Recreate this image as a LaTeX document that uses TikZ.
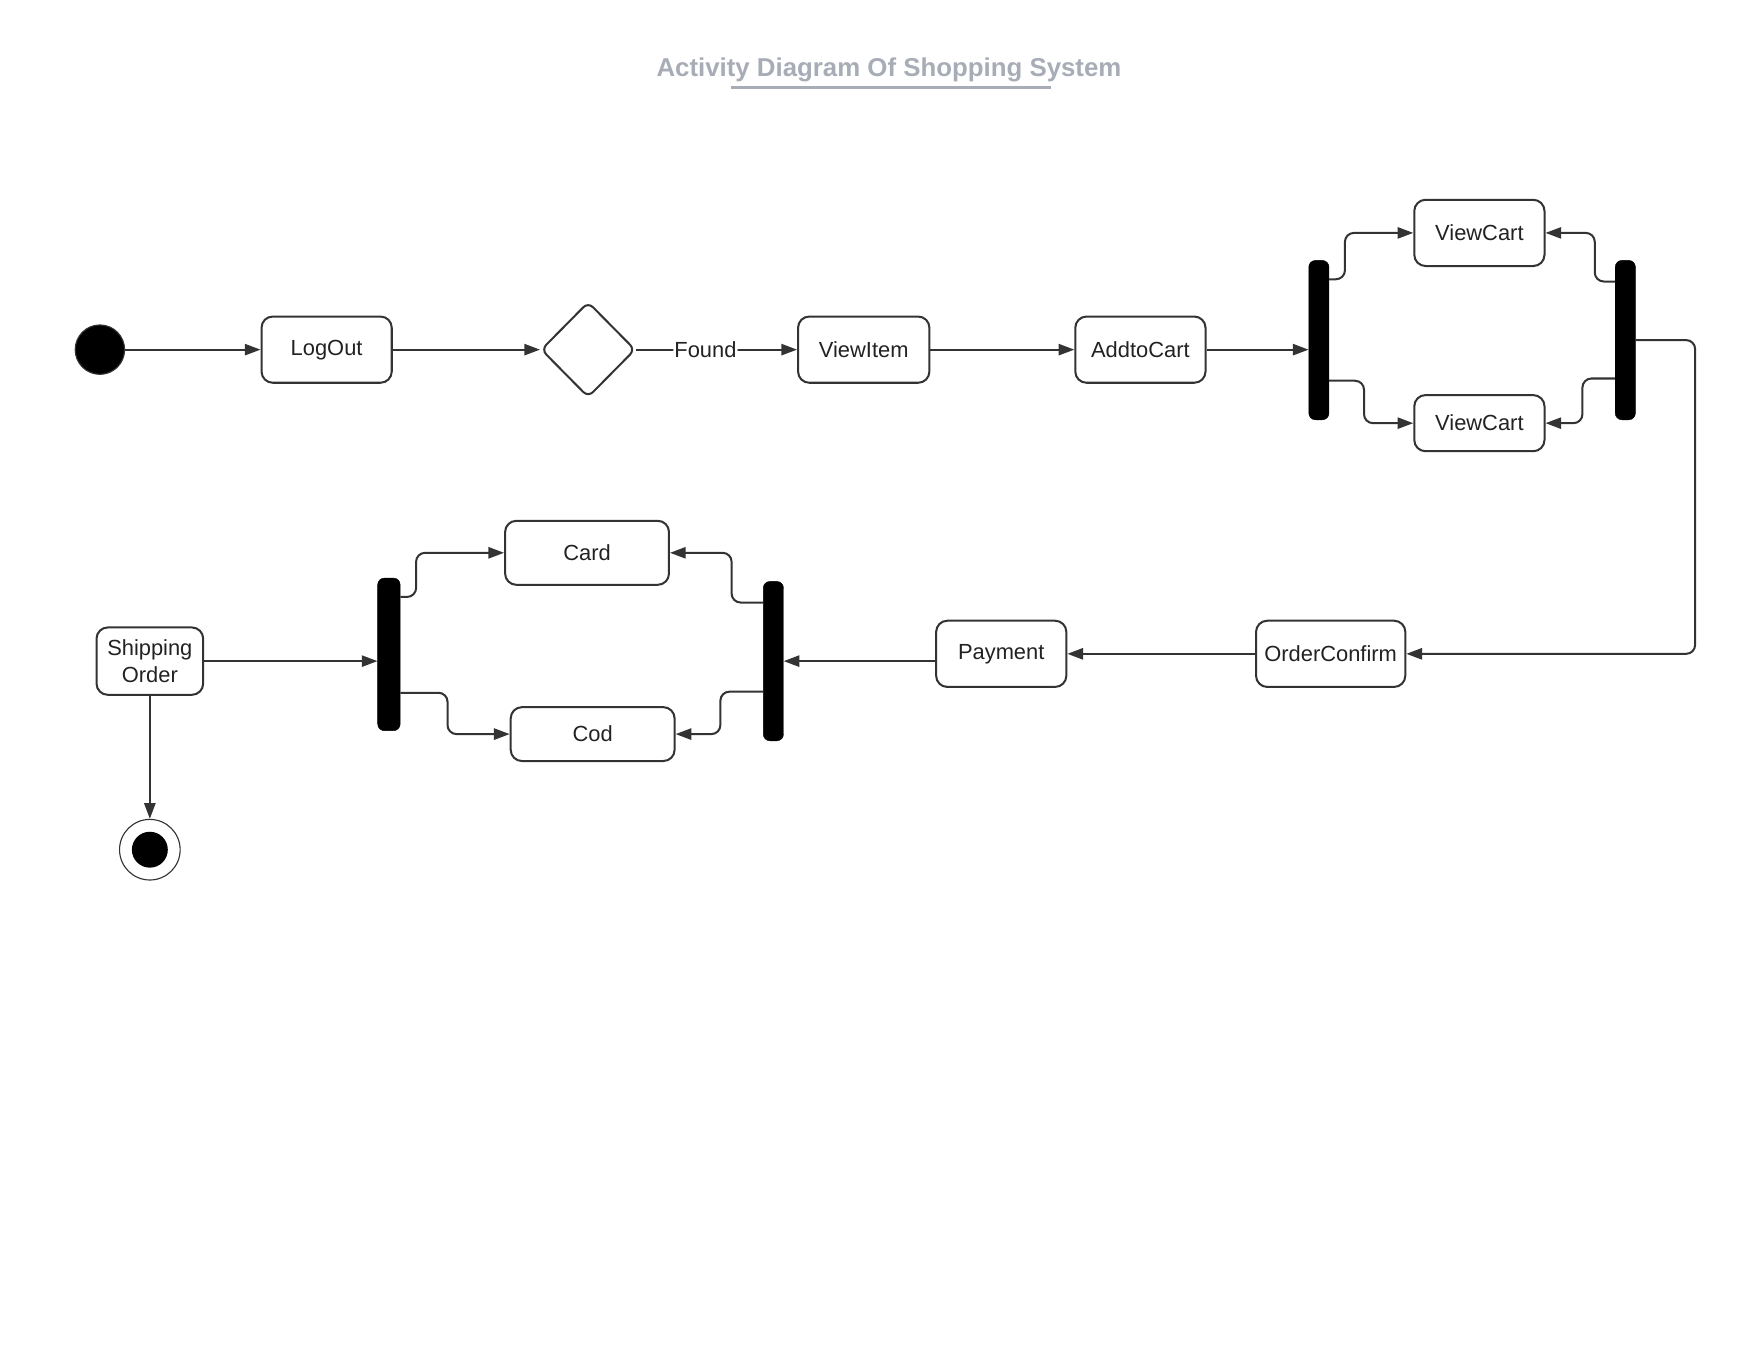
\documentclass[tikz,border=0pt]{standalone}
\usepackage{fontspec}
\setmainfont{Liberation Sans}
\usetikzlibrary{arrows.meta,shapes.geometric,calc}
\definecolor{ln}{HTML}{333333}
\definecolor{tx}{HTML}{222222}
\definecolor{ttl}{HTML}{A7ACB6}
\begin{document}
\begin{tikzpicture}[x=1pt,y=-1pt,
  box/.style={draw=ln, line width=1.8pt, rounded corners=10pt, fill=white, inner sep=0pt,
    font=\fontsize{19.5}{23.4}\selectfont, text=tx, align=center},
  bar/.style={fill=black, draw=black, rounded corners=6pt, minimum width=18pt, inner sep=0pt},
  conn/.style={draw=ln, line width=1.8pt, -{Triangle[length=14pt,width=10pt]}, rounded corners=8pt},
  lbl/.style={fill=white, inner sep=1pt, font=\fontsize{19.5}{23.4}\selectfont, text=tx},
]
\useasboundingbox (0,0) rectangle (1568,1212);

% title
\node[font=\fontsize{23}{27}\bfseries, text=ttl] (title) at (792,62) {Activity Diagram Of Shopping System};
\coordinate (ul1) at (651,78);
\coordinate (ul2) at (936,78);
\draw[ttl, line width=2pt] (ul1) -- (ul2);

% nodes
\node[circle, fill=black, draw=ln, line width=1pt, minimum size=44pt, inner sep=0pt] (start) at (89,311.5) {};
\node[box, minimum width=116pt, minimum height=59pt] (lo) at (291,311.5) {LogOut};
\node[diamond, draw=ln, line width=1.8pt, rounded corners=6pt, fill=white, aspect=1, minimum width=84pt, minimum height=85pt, inner sep=0pt] (dec) at (524,311.5) {};
\node[box, minimum width=117pt, minimum height=59pt] (vi) at (769.5,311.5) {ViewItem};
\node[box, minimum width=116pt, minimum height=59pt] (atc) at (1016,311.5) {AddtoCart};
\node[bar, minimum height=142pt] (b1) at (1175,303) {};
\node[bar, minimum height=142pt] (b2) at (1448,303) {};
\node[box, minimum width=116pt, minimum height=59pt] (vc1) at (1318,207.5) {ViewCart};
\node[box, minimum width=116pt, minimum height=50pt] (vc2) at (1318,377) {ViewCart};
\node[box, minimum width=133pt, minimum height=59pt] (oc) at (1185.5,582.5) {OrderConfirm};
\node[box, minimum width=116pt, minimum height=59pt] (pay) at (892,582.5) {Payment};
\node[bar, minimum height=142pt] (b3) at (689,589) {};
\node[bar, minimum width=20pt, minimum height=136pt] (b4) at (346.5,583) {};
\node[box, minimum width=146pt, minimum height=57pt] (card) at (523,492.5) {Card};
\node[box, minimum width=146pt, minimum height=48pt] (cod) at (528,654) {Cod};
\node[box, minimum width=95pt, minimum height=60pt] (so) at (133.5,589) {Shipping\\Order};
\node[circle, draw=ln, line width=1pt, fill=white, minimum size=54pt, inner sep=0pt] (end) at (133.5,757) {};
\node[circle, fill=black, minimum size=32pt, inner sep=0pt] (endin) at (end.center) {};

% connectors
\draw[conn] (start) -- (lo);
\draw[conn] (lo) -- (dec);
\draw[conn] (dec.east) -- node[lbl, pos=0.43] (found) {Found} (vi.west);
\draw[conn] (vi) -- (atc);
\draw[conn] (atc.east) -- (atc.east -| b1.west);
\draw[conn] ($(b1.north east)+(0,17)$) -- ++(14,0) |- (vc1.west);
\draw[conn] ($(b1.south east)+(0,-35)$) -- ++(31,0) |- (vc2.west);
\draw[conn] ($(b2.north west)+(0,19)$) -- ++(-18,0) |- (vc1.east);
\draw[conn] ($(b2.south west)+(0,-37)$) -- ++(-29,0) |- (vc2.east);
\draw[conn] (b2.east) -- ++(53,0) |- (oc.east);
\draw[conn] (oc.west) -- (pay.east);
\draw[conn] (pay.west |- b3.east) -- (b3.east);
\draw[conn] ($(b3.north west)+(0,19)$) -- ++(-28,0) |- (card.east);
\draw[conn] ($(b3.south west)+(0,-44)$) -- ++(-38,0) |- (cod.east);
\draw[conn] (so.east) -- (so.east -| b4.west);
\draw[conn] ($(b4.north east)+(0,17)$) -- ++(14,0) |- (card.west);
\draw[conn] ($(b4.south east)+(0,-34)$) -- ++(42,0) |- (cod.west);
\draw[conn] (so.south) -- (end.north);
\end{tikzpicture}
\end{document}
